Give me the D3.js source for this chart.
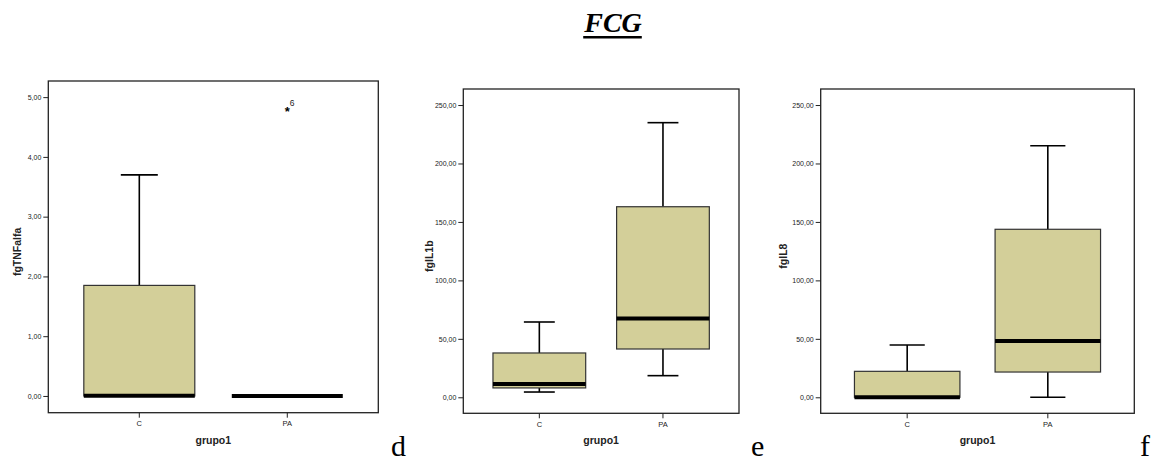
<!DOCTYPE html>
<html><head><meta charset="utf-8">
<script src="https://cdn.jsdelivr.net/npm/d3@7"></script>
<style>body{margin:0;background:#fff;} svg{display:block;}</style>
</head><body>
<svg id="c" width="1162" height="461"></svg>
<script>
// ---- data ----
const categories = ["C", "PA"];
// [min, q1, median, q3, max]
const tnfStats = [[0, 0, 0.005, 1.85, 3.70], [0, 0, 0, 0, 0]];
const tnfOutliers = [{cat: "PA", value: 4.78, label: "6"}];
const il1bStats = [[4.5, 8, 11.4, 37.9, 64.4], [18.5, 41.3, 67.3, 163, 234.9]];
const il8Stats = [[0, 0, 0, 22.2, 44.7], [0, 21.6, 48.2, 143.7, 215.2]];
const tnfTicks = [0, 1, 2, 3, 4, 5];
const ilTicks = [0, 50, 100, 150, 200, 250];
const yLabels = ["fgTNFalfa", "fgIL1b", "fgIL8"];
const xLabel = "grupo1";
const panelLetters = ["d", "e", "f"];
const title = "FCG";

const svg = d3.select("#c");
const fill = "#d3cf99";
const fmt = v => d3.format(".2f")(v).replace(".", ",");
const sans = "Arial, 'Liberation Sans', sans-serif";

const panels = [
  {stats: tnfStats, outliers: tnfOutliers, ticks: tnfTicks, ylab: yLabels[0],
   left: 48.3, right: 378.3, top: 81, bottom: 412.7, domain: [-0.28, 5.27], ylabX: 17, letter: panelLetters[0], letterX: 391},
  {stats: il1bStats, outliers: [], ticks: ilTicks, ylab: yLabels[1],
   left: 463.3, right: 739, top: 89, bottom: 413.3, domain: [-13.7, 263.7], ylabX: 429, letter: panelLetters[1], letterX: 751},
  {stats: il8Stats, outliers: [], ticks: ilTicks, ylab: yLabels[2],
   left: 820.7, right: 1134.3, top: 89, bottom: 413.3, domain: [-13.7, 263.7], ylabX: 783, letter: panelLetters[2], letterX: 1140}
];

panels.forEach(p => {
  const x = d3.scaleBand().domain(categories).range([p.left, p.right]).paddingInner(0.25).paddingOuter(0.24);
  const xc = c => x(c) + x.bandwidth() / 2;
  const y = d3.scaleLinear().domain(p.domain).range([p.bottom, p.top]);
  const g = svg.append("g");

  g.append("rect").attr("x", p.left).attr("y", p.top)
    .attr("width", p.right - p.left).attr("height", p.bottom - p.top)
    .attr("fill", "none").attr("stroke", "#222").attr("stroke-width", 1.3);

  const ya = d3.axisLeft(y).tickValues(p.ticks).tickFormat(fmt).tickSize(5).tickPadding(2);
  const yg = g.append("g").attr("transform", `translate(${p.left},0)`).call(ya);
  yg.select(".domain").remove();
  yg.selectAll("line").attr("stroke", "#222");
  yg.selectAll("text").attr("font-family", sans).attr("font-size", 7).attr("fill", "#222");

  const xa = d3.axisBottom(x).tickSize(5).tickPadding(3);
  const xg = g.append("g").attr("transform", `translate(0,${p.bottom})`).call(xa);
  xg.select(".domain").remove();
  xg.selectAll("line").attr("stroke", "#222");
  xg.selectAll("text").attr("font-family", sans).attr("font-size", 7.5).attr("fill", "#222");

  g.append("text").attr("x", (p.left + p.right) / 2).attr("y", 444)
    .attr("text-anchor", "middle").attr("font-family", sans)
    .attr("font-weight", "bold").attr("font-size", 10.5).attr("fill", "#222").text(xLabel);
  const ymid = (p.top + p.bottom) / 2 + 5;
  g.append("text").attr("transform", `translate(${p.ylabX + 3.5},${ymid}) rotate(-90)`)
    .attr("text-anchor", "middle").attr("font-family", sans)
    .attr("font-weight", "bold").attr("font-size", 10.5).attr("fill", "#222").text(p.ylab);

  categories.forEach((c, i) => {
    const [mn, q1, md, q3, mx] = p.stats[i];
    const cx = xc(c), bw = x.bandwidth(), cap = bw / 3;
    if (mx > q3) {
      g.append("line").attr("x1", cx).attr("x2", cx).attr("y1", y(q3)).attr("y2", y(mx)).attr("stroke", "#000").attr("stroke-width", 1.6);
      g.append("line").attr("x1", cx - cap / 2).attr("x2", cx + cap / 2).attr("y1", y(mx)).attr("y2", y(mx)).attr("stroke", "#000").attr("stroke-width", 1.6);
    }
    if (mn < q1) {
      g.append("line").attr("x1", cx).attr("x2", cx).attr("y1", y(q1)).attr("y2", y(mn)).attr("stroke", "#000").attr("stroke-width", 1.6);
      g.append("line").attr("x1", cx - cap / 2).attr("x2", cx + cap / 2).attr("y1", y(mn)).attr("y2", y(mn)).attr("stroke", "#000").attr("stroke-width", 1.6);
    }
    if (q3 > q1) {
      g.append("rect").attr("x", x(c)).attr("y", y(q3)).attr("width", bw).attr("height", y(q1) - y(q3))
        .attr("fill", fill).attr("stroke", "#333").attr("stroke-width", 1.2);
    }
    g.append("line").attr("x1", x(c)).attr("x2", x(c) + bw).attr("y1", y(md)).attr("y2", y(md))
      .attr("stroke", "#000").attr("stroke-width", 4);
  });

  p.outliers.forEach(o => {
    const cx = xc(o.cat), cy = y(o.value);
    g.append("text").attr("x", cx).attr("y", cy + 6).attr("text-anchor", "middle")
      .attr("font-family", sans).attr("font-weight", "bold").attr("font-size", 13).attr("fill", "#000").text("*");
    g.append("text").attr("x", cx + 2.5).attr("y", cy - 4.5)
      .attr("font-family", sans).attr("font-size", 8.5).attr("fill", "#222").text(o.label);
  });

  svg.append("text").attr("x", p.letterX).attr("y", 456)
    .attr("font-family", "'Liberation Serif', 'Times New Roman', serif").attr("font-size", 30).text(p.letter);
});

const t = svg.append("text").attr("x", 613).attr("y", 32).attr("text-anchor", "middle")
  .attr("font-family", "'Liberation Serif', 'Times New Roman', serif").attr("font-size", 28)
  .attr("font-weight", "bold").attr("font-style", "italic").text(title);
const bb = t.node().getBBox();
svg.append("rect").attr("x", bb.x).attr("y", 36).attr("width", bb.width).attr("height", 2.5).attr("fill", "#000");
</script>
</body></html>
